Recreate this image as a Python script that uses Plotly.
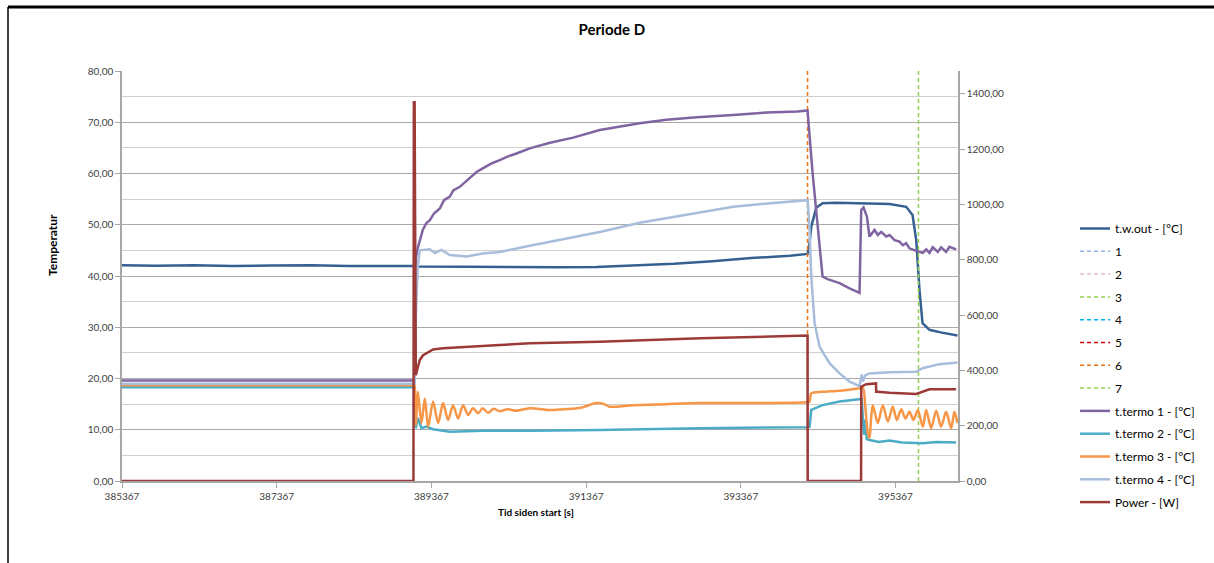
import plotly.graph_objects as go

# ---------------- data ----------------
TWO_T = [385367, 385800, 386300, 386800, 387300, 387800, 388300, 388800, 389140, 389200,
         389600, 390000, 390500, 391000, 391500, 392000, 392500, 393000, 393500, 394000,
         394215, 394230, 394256, 394278, 394342, 394424, 394600, 395000, 395290, 395505,
         395587, 395635, 395677, 395716, 395806, 395950, 396168]
TWO_V = [42.1, 42.0, 42.1, 41.95, 42.05, 42.1, 41.95, 42.0, 41.95, 41.85,
         41.8, 41.85, 41.8, 41.7, 41.75, 42.1, 42.4, 42.9, 43.5, 43.95,
         44.2, 44.3, 46.5, 49.6, 53.3, 54.2, 54.3, 54.2, 54.05, 53.5,
         51.9, 47.0, 37.3, 30.8, 29.5, 29.0, 28.4]

T1_T = [385367, 389150, 389166, 389191, 389256, 389300, 389347, 389400, 389476, 389530,
        389605, 389650, 389734, 389800, 389863, 389950, 390031, 390150, 390251, 390350,
        390467, 390638, 390900, 391200, 391543, 392060, 392405, 392800, 393269, 393700,
        394100, 394230, 394295, 394359, 394424, 394489, 394644, 394773, 394902, 394924,
        394954, 394997, 395031, 395096, 395138, 395182, 395247, 395290, 395355, 395419,
        395462, 395505, 395548, 395635, 395720, 395764, 395806, 395849, 395914, 395957,
        396021, 396064, 396151]
T1_V = [19.6, 19.6, 43.5, 45.5, 49.0, 50.3, 50.9, 52.2, 53.2, 54.8,
        55.5, 56.7, 57.4, 58.3, 59.1, 60.3, 61.0, 62.0, 62.6, 63.3,
        63.9, 64.9, 66.0, 67.0, 68.5, 69.8, 70.5, 71.0, 71.4, 71.9,
        72.1, 72.3, 60.1, 50.3, 39.9, 39.4, 38.6, 37.6, 36.7, 52.9,
        53.4, 51.6, 47.7, 49.0, 48.0, 48.6, 47.7, 48.0, 47.0, 46.7,
        46.0, 46.4, 45.4, 44.9, 44.5, 45.2, 44.5, 45.6, 44.7, 45.6,
        44.7, 45.7, 45.2]

T2_T = [385367, 389150, 389166, 389191, 389239, 389300, 389389, 389605, 390031, 390638,
        391543, 392843, 394213, 394256, 394278, 394424, 394644, 394902, 394930, 394950,
        394962, 394975, 394995, 395031, 395150, 395290, 395450, 395716, 395900, 396151]
T2_V = [18.3, 18.3, 10.3, 12.3, 10.3, 10.6, 10.1, 9.6, 9.8, 9.8,
        9.95, 10.3, 10.5, 10.6, 13.9, 14.8, 15.5, 15.9, 16.0, 11.0,
        9.0, 12.0, 8.2, 8.0, 7.6, 7.9, 7.5, 7.35, 7.6, 7.5]

T3_T = [385367, 386500, 387500, 388500, 389100, 389145, 389150, 389166, 389191, 389239,
        389282, 389325, 389389, 389454, 389518, 389583, 389647, 389712, 389777, 389841,
        389906, 389970, 390031, 390100, 390170, 390251, 390350, 390467, 390638, 390897,
        391100, 391300, 391500, 391600, 391672, 391969, 392400, 392843, 393500, 394213,
        394256, 394278, 394424, 394644, 394902, 394945, 394980, 395010, 395031, 395053,
        395074, 395138, 395203, 395268, 395332, 395384, 395441, 395496, 395548, 395600,
        395655, 395720, 395764, 395828, 395893, 395957, 396021, 396086, 396129, 396168]
T3_V = [18.7, 18.7, 18.7, 18.7, 18.7, 18.7, 18.7, 11.0, 17.4, 11.3,
        16.1, 10.6, 15.5, 11.3, 15.2, 11.9, 14.8, 12.2, 14.8, 12.9,
        14.2, 13.2, 14.2, 13.3, 14.1, 13.6, 14.0, 13.7, 14.2, 13.85,
        14.0, 14.3, 15.2, 15.0, 14.5, 14.8, 15.0, 15.2, 15.2, 15.35,
        15.5, 17.1, 17.4, 17.6, 18.1, 18.2, 13.85, 9.3, 8.4, 12.5,
        14.8, 11.3, 14.8, 11.6, 14.5, 11.9, 14.0, 12.2, 13.5, 11.9,
        13.85, 10.6, 13.85, 10.3, 13.7, 10.6, 13.5, 10.3, 13.5, 11.3]

T4_T = [385367, 389150, 389166, 389191, 389217, 389347, 389411, 389498, 389605, 389821,
        390031, 390251, 390638, 391100, 391543, 392060, 392405, 392843, 393269, 393750,
        394213, 394232, 394256, 394278, 394321, 394385, 394514, 394644, 394773, 394902,
        394930, 394945, 394975, 395031, 395290, 395635, 395716, 395936, 396168]
T4_V = [19.0, 19.0, 32.0, 42.0, 45.0, 45.2, 44.5, 45.1, 44.1, 43.8,
        44.4, 44.7, 45.9, 47.3, 48.6, 50.4, 51.3, 52.4, 53.5, 54.2,
        54.8, 54.8, 49.0, 39.9, 30.8, 26.2, 23.0, 21.0, 19.4, 18.5,
        20.8, 19.4, 20.6, 21.0, 21.2, 21.3, 22.0, 22.8, 23.1]

P_T = [385367, 389135, 389140, 389150, 389165, 389191, 389217, 389260, 389300, 389389,
       389518, 389821, 390251, 390638, 391543, 392843, 393700, 394213, 394230, 394232,
       394922, 394924, 394989, 395115, 395117, 395138, 395290, 395635, 395720, 395806,
       396151]
P_V = [0, 0, 1370, 1370, 383, 413, 438, 455, 462, 476,
       480, 486, 492, 498, 504, 516, 522, 526, 526, 0,
       0, 341, 350, 353, 323, 323, 319, 315, 323, 332,
       332]

EVENT_NAMES = ["1", "2", "3", "4", "5", "6", "7"]
EVENT_TIMES = [None, None, None, None, None, 394230, 395664]
EVENT_COLORS = ["#8DB4E2", "#E6B9B8", "#92D050", "#00B0F0", "#D00000", "#EA7417", "#92D050"]

TEMP_RANGE = [0, 80]
POWER_RANGE = [0, 1483]
X_RANGE = [385367, 396175]

# ---------------- figure ----------------
FONT = "Lato"
fig = go.Figure()
LW = 2.5
gid = 0


def add(trace):
    global gid
    gid += 1
    trace.legendgroup = "g%d" % gid
    fig.add_trace(trace)


add(go.Scatter(x=TWO_T, y=TWO_V, mode="lines", name="t.w.out - [°C]",
               line=dict(color="#376092", width=LW)))

for name, t, c in zip(EVENT_NAMES, EVENT_TIMES, EVENT_COLORS):
    if t is not None:
        xs, ys = [t, t], TEMP_RANGE
    else:
        xs, ys = [None], [None]   # event outside this period: legend entry only
    add(go.Scatter(x=xs, y=ys, mode="lines", name=name, showlegend=True,
                   line=dict(color=c, width=1.5, dash="4px,3px")))

add(go.Scatter(x=T1_T, y=T1_V, mode="lines", name="t.termo 1 - [°C]",
               line=dict(color="#8064A2", width=LW)))
add(go.Scatter(x=T2_T, y=T2_V, mode="lines", name="t.termo 2 - [°C]",
               line=dict(color="#4BACC6", width=LW)))
add(go.Scatter(x=T3_T, y=T3_V, mode="lines", name="t.termo 3 - [°C]",
               line=dict(color="#F79646", width=LW, shape="spline", smoothing=0.8)))
add(go.Scatter(x=T4_T, y=T4_V, mode="lines", name="t.termo 4 - [°C]",
               line=dict(color="#A7BDDB", width=LW)))
add(go.Scatter(x=P_T, y=P_V, mode="lines", name="Power - [W]", yaxis="y2",
               line=dict(color="#9B3A37", width=LW)))

AX = "#A6A6A6"
fig.update_layout(
    width=1214, height=563,
    margin=dict(l=122, r=256, t=71, b=82),
    paper_bgcolor="white", plot_bgcolor="white",
    separators=", ",
    font=dict(family=FONT, size=10, color="#404040"),
    title=dict(text="<b>Periode D</b>", x=0.504, xref="container", xanchor="center",
               y=1 - 30 / 563, yref="container", yanchor="middle",
               font=dict(family=FONT, size=15, color="#000000")),
    xaxis=dict(range=X_RANGE, tick0=385367, dtick=2000, tickformat="d",
               ticks="outside", ticklen=5, tickcolor=AX, showline=True,
               linecolor=AX, linewidth=1.5, showgrid=False, zeroline=False,
               tickfont=dict(size=10, color="#404040")),
    yaxis=dict(range=TEMP_RANGE, dtick=10, tickformat=".2f", ticks="outside",
               ticklen=5, tickcolor=AX, showline=True, linecolor=AX, linewidth=1.5,
               gridcolor="#A9A9A9", gridwidth=1, zeroline=False,
               minor=dict(dtick=5, showgrid=True, gridcolor="#D0D0D0", ticks=""),
               tickfont=dict(size=10, color="#404040")),
    yaxis2=dict(range=POWER_RANGE, dtick=200, tickformat=".2f", overlaying="y",
                side="right", ticks="outside", ticklen=5, tickcolor=AX,
                showline=True, linecolor=AX, linewidth=1.5, showgrid=False,
                zeroline=False, tickfont=dict(size=10, color="#404040")),
    legend=dict(x=1.14, y=(481 - 214) / 410, xanchor="left", yanchor="top",
                font=dict(family=FONT, size=12, color="#000000"),
                tracegroupgap=3.8, bgcolor="rgba(0,0,0,0)"),
    annotations=[
        dict(text="<b>Temperatur</b>", xref="paper", yref="paper",
             x=(52 - 122) / 836, y=(481 - 245) / 410, textangle=-90,
             xanchor="center", yanchor="middle",
             showarrow=False, font=dict(family=FONT, size=12, color="#000000")),
        dict(text="<b>Tid siden start [s]</b>", xref="paper", yref="paper",
             x=(536 - 122) / 836, y=(481 - 512) / 410, showarrow=False,
             xanchor="center", yanchor="middle",
             font=dict(family=FONT, size=10, color="#000000")),
    ],
    shapes=[
        dict(type="line", xref="paper", yref="paper",
             x0=(8 - 122) / 836, x1=(1214 - 122) / 836,
             y0=(481 - 7) / 410, y1=(481 - 7) / 410,
             line=dict(color="#000000", width=3)),
        dict(type="line", xref="paper", yref="paper",
             x0=(8 - 122) / 836, x1=(8 - 122) / 836,
             y0=(481 - 7) / 410, y1=(481 - 563) / 410,
             line=dict(color="#000000", width=1.5)),
    ],
)

fig.write_html("out.html", config={"displayModeBar": False})
